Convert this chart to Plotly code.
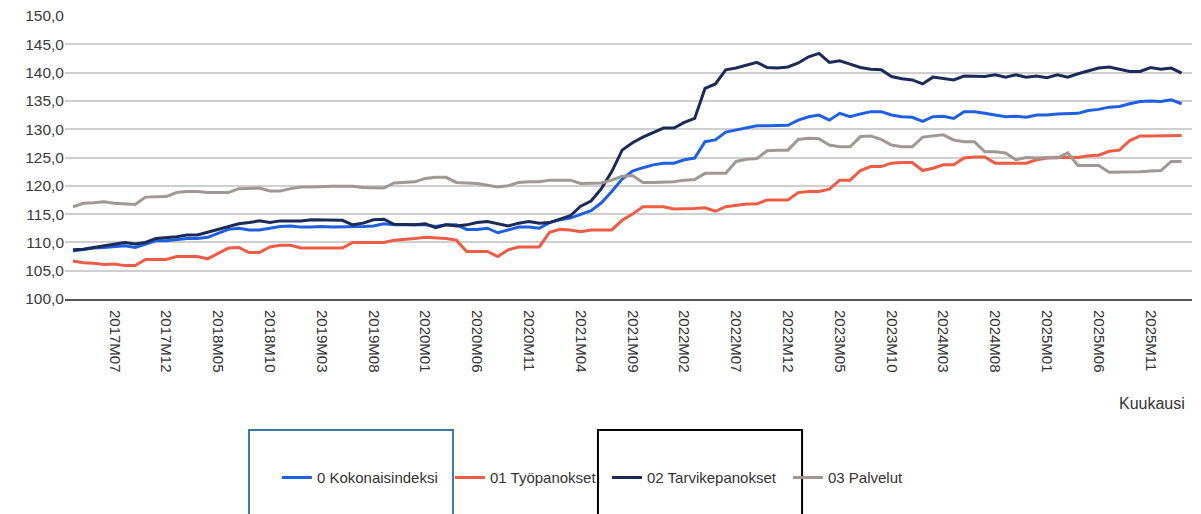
import plotly.graph_objects as go

# Months 2017M03 .. 2026M02 (108 monthly categories)
months = [f"{y}M{m:02d}" for y in range(2017, 2027) for m in range(1, 13)]
months = months[months.index("2017M03"):months.index("2026M02") + 1]

tick_labels = ["2017M07", "2017M12", "2018M05", "2018M10", "2019M03", "2019M08",
               "2020M01", "2020M06", "2020M11", "2021M04", "2021M09", "2022M02",
               "2022M07", "2022M12", "2023M05", "2023M10", "2024M03", "2024M08",
               "2025M01", "2025M06", "2025M11"]

kokonaisindeksi = [
    108.5, 108.8, 109.0, 109.1, 109.2, 109.4, 109.1, 109.7, 110.3, 110.3,
    110.5, 110.7, 110.7, 110.9, 111.6, 112.3, 112.5, 112.2, 112.2, 112.5,
    112.8, 112.9, 112.7, 112.7, 112.8, 112.7, 112.7, 112.7, 112.8, 112.9,
    113.3, 113.1, 113.1, 113.1, 113.1, 112.8, 113.1, 113.1, 112.3, 112.3,
    112.5, 111.7, 112.2, 112.7, 112.7, 112.5, 113.5, 114.0, 114.3, 114.9,
    115.6, 117.0, 119.0, 121.2, 122.6, 123.2, 123.7, 124.0, 124.0, 124.6,
    124.9, 127.8, 128.1, 129.5, 129.9, 130.3, 130.6, 130.6, 130.6, 130.7,
    131.6, 132.2, 132.5, 131.6, 132.8, 132.2, 132.7, 133.1, 133.1, 132.5,
    132.2, 132.1, 131.4, 132.2, 132.3, 131.9, 133.1, 133.1, 132.8, 132.5,
    132.2, 132.3, 132.1, 132.5, 132.5, 132.7, 132.8, 132.8, 133.3, 133.5,
    133.9, 134.0, 134.5, 134.9, 135.0, 134.9, 135.2, 134.5]

tyopanokset = [
    106.7, 106.4, 106.3, 106.1, 106.2, 105.9, 105.9, 107.0, 107.0, 107.0,
    107.5, 107.5, 107.5, 107.1, 108.0, 109.0, 109.1, 108.2, 108.2, 109.2,
    109.5, 109.5, 109.0, 109.0, 109.0, 109.0, 109.0, 110.0, 110.0, 110.0,
    110.0, 110.4, 110.5, 110.7, 110.9, 110.8, 110.7, 110.4, 108.4, 108.4,
    108.4, 107.5, 108.7, 109.2, 109.2, 109.2, 111.8, 112.3, 112.2, 111.9,
    112.2, 112.2, 112.2, 113.9, 115.0, 116.3, 116.3, 116.3, 115.9, 115.9,
    116.0, 116.1, 115.5, 116.3, 116.6, 116.8, 116.8, 117.5, 117.5, 117.5,
    118.8, 119.0, 119.0, 119.4, 121.0, 121.0, 122.7, 123.4, 123.4, 124.0,
    124.1, 124.1, 122.7, 123.1, 123.7, 123.7, 124.9, 125.1, 125.1, 124.0,
    124.0, 124.0, 124.0, 124.6, 124.9, 125.0, 125.0, 125.0, 125.3, 125.4,
    126.1, 126.3, 128.0, 128.8, 128.8, 128.8, 128.9, 128.9]

tarvikepanokset = [
    108.7, 108.8, 109.1, 109.4, 109.7, 110.0, 109.7, 110.0, 110.7, 110.8,
    111.0, 111.3, 111.3, 111.8, 112.3, 112.9, 113.3, 113.5, 113.8, 113.5,
    113.8, 113.8, 113.8, 114.0, 114.0, 113.9, 113.9, 113.1, 113.4, 114.0,
    114.1, 113.2, 113.1, 113.1, 113.3, 112.6, 113.1, 112.9, 113.1, 113.5,
    113.7, 113.3, 112.9, 113.4, 113.7, 113.4, 113.5, 114.1, 114.7, 116.4,
    117.3, 119.5, 122.5, 126.3, 127.6, 128.6, 129.4, 130.2, 130.2, 131.2,
    131.9, 137.2, 138.0, 140.5, 140.8, 141.3, 141.8, 140.9, 140.8, 141.0,
    141.7, 142.8, 143.4, 141.8, 142.1, 141.5, 140.9, 140.6, 140.5, 139.3,
    138.9, 138.7, 138.0, 139.2, 139.0, 138.7, 139.4, 139.4, 139.3, 139.6,
    139.2, 139.6, 139.2, 139.4, 139.1, 139.6, 139.2, 139.8, 140.3, 140.8,
    141.0, 140.6, 140.2, 140.2, 140.9, 140.6, 140.8, 139.9]

palvelut = [
    116.3, 116.9, 117.0, 117.2, 116.9, 116.8, 116.7, 118.0, 118.1, 118.1,
    118.8, 119.0, 119.0, 118.8, 118.8, 118.8, 119.5, 119.5, 119.6, 119.1,
    119.1, 119.5, 119.8, 119.8, 119.9, 119.9, 119.9, 119.9, 119.7, 119.7,
    119.6, 120.5, 120.6, 120.7, 121.3, 121.5, 121.5, 120.6, 120.5, 120.4,
    120.1, 119.8, 120.0, 120.6, 120.7, 120.7, 121.0, 121.0, 121.0, 120.4,
    120.4, 120.5, 121.0, 121.7, 121.8, 120.6, 120.6, 120.7, 120.7, 121.0,
    121.1, 122.2, 122.2, 122.2, 124.3, 124.7, 124.8, 126.2, 126.3, 126.3,
    128.2, 128.4, 128.3, 127.2, 126.9, 126.9, 128.7, 128.8, 128.2, 127.2,
    126.9, 126.9, 128.6, 128.8, 129.0, 128.1, 127.8, 127.8, 126.0, 126.0,
    125.8, 124.6, 125.0, 124.9, 125.0, 124.9, 125.8, 123.6, 123.6, 123.6,
    122.4, 122.4, 122.5, 122.5, 122.6, 122.7, 124.3, 124.3]

y_ticks = [100, 105, 110, 115, 120, 125, 130, 135, 140, 145, 150]

series_names = ["0 Kokonaisindeksi", "01 Työpanokset", "02 Tarvikepanokset", "03 Palvelut"]
series_values = [kokonaisindeksi, tyopanokset, tarvikepanokset, palvelut]
series_colors = ["#1f5fe3", "#ef5c46", "#1b2a57", "#a19894"]
legend_ids = ["legend", "legend2", "legend3", "legend4"]
legend_x = [0.188, 0.3416, 0.4809, 0.6415]

font_family = "Liberation Sans, Arial, sans-serif"

fig = go.Figure()
for name, vals, col, lid in zip(series_names, series_values, series_colors, legend_ids):
    fig.add_trace(go.Scatter(x=months, y=vals, mode="lines", name=name, legend=lid,
                             line=dict(color=col, width=3)))

legend_common = dict(orientation="h", xanchor="left", y=-0.632, yanchor="middle",
                     font=dict(size=15, color="#333333", family=font_family),
                     itemwidth=30, bgcolor="rgba(0,0,0,0)")
legend_layout = {lid: dict(x=lx, **legend_common) for lid, lx in zip(legend_ids, legend_x)}

fig.update_layout(
    width=1193, height=506,
    margin=dict(l=57, r=9, t=8, b=215, autoexpand=False),
    paper_bgcolor="white", plot_bgcolor="white",
    separators=", ",
    font=dict(family=font_family, color="#333333"),
    showlegend=True,
    xaxis=dict(type="category", categoryorder="array", categoryarray=months,
               range=[-0.77, 108.0], tickmode="array", tickvals=tick_labels,
               ticktext=tick_labels, tickangle=90, showgrid=False,
               showline=True, linecolor="#555555", linewidth=2,
               ticks="", tickfont=dict(size=15, color="#333333"),
               ticklabelstandoff=6, zeroline=False),
    yaxis=dict(range=[100, 150], tickmode="array", tickvals=y_ticks,
               tickformat=".1f", showgrid=True, ticklabeloverflow="allow",
               gridcolor="#cfcfcf", gridwidth=1.5, zeroline=False, showline=False,
               ticks="", tickfont=dict(size=15.5, color="#3a3a3a")),
    annotations=[dict(text="Kuukausi", xref="paper", yref="paper", x=0.9956, y=-0.371,
                      xanchor="right", yanchor="middle", showarrow=False,
                      font=dict(size=16, color="#333333"))],
    shapes=[
        dict(type="rect", xref="paper", yref="paper", x0=0.1633, x1=0.3443,
             y0=-0.80, y1=-0.463, line=dict(color="#3b7aa8", width=2),
             fillcolor="rgba(0,0,0,0)", layer="below"),
        dict(type="rect", xref="paper", yref="paper", x0=0.4729, x1=0.654,
             y0=-0.80, y1=-0.463, line=dict(color="#000000", width=2),
             fillcolor="rgba(0,0,0,0)", layer="below"),
    ],
    **legend_layout,
)

fig.write_html("out.html")
